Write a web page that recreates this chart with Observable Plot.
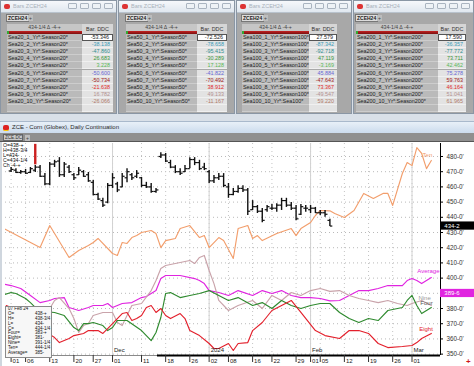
<!DOCTYPE html>
<html><head><meta charset="utf-8">
<script src="https://cdn.jsdelivr.net/npm/d3@7"></script>
<script src="https://cdn.jsdelivr.net/npm/@observablehq/plot@0.6"></script>
<style>
body{margin:0;width:474px;height:366px;overflow:hidden;background:#d9e0e8;position:relative;font-family:"Liberation Sans",Arial,sans-serif;}
.panel{position:absolute;top:0;height:114px;background:#a8a8a8;border:1px solid #8a96a4;box-sizing:border-box;overflow:hidden}
.tb{position:absolute;left:0;top:0;right:0;height:11px;background:linear-gradient(#f6f8fb,#e0e7ef);border-bottom:1px solid #b8c2cc}
.tb .ico{position:absolute;left:3px;top:3px;width:6px;height:5px;background:#d33;border-radius:2px}
.tb .t{position:absolute;left:12px;top:2px;font-size:5.5px;color:#a9b1bb}
.tb .b{position:absolute;top:2px;width:9px;height:6px;border:1px solid #aab4c0;border-radius:1px;background:#eef2f6;box-sizing:border-box}
.tab{position:absolute;top:13px;height:8px;background:#dcdcdc;border:1px solid #777;box-sizing:border-box;font-size:5px;font-weight:bold;color:#222;line-height:6px;padding:0 1px}
.plus{position:absolute;top:14px;width:5px;height:6px;background:#bdbdbd;font-size:5px;line-height:6px;text-align:center;color:#444}
.cell{position:absolute;box-sizing:border-box;font-size:5.4px;white-space:nowrap;overflow:hidden;line-height:7px}
.nm{background:#bababa;border-bottom:1px solid #cdcdcd;color:#1c1c1c;padding-left:1px}
.vl{background:#e3e3e3;border-bottom:1px solid #f0f0f0;text-align:right;padding-right:3px}
.hdr{background:#c6c6c6;color:#444;text-align:center;font-size:5.2px;line-height:6px}
.vh{background:#d6d6d6;color:#333;text-align:center;font-size:5.4px;line-height:10px}
.red{background:linear-gradient(#c42222,#7a1010);border-left:2px solid #3a3}
#wt{position:absolute;left:0;top:121px;width:474px;height:12px;background:linear-gradient(#e8f0f8,#cbdbed);border-top:1px solid #a9b9cc;box-sizing:border-box}
#wt .ico{position:absolute;left:3px;top:3px;width:6px;height:5px;background:#d22;border-radius:2px;border-bottom:1px solid #fc0}
#wt .t{position:absolute;left:12px;top:2px;font-size:6px;color:#2a2a2a}
#tool{position:absolute;left:0;top:133px;width:474px;height:9px;background:#8f8f8f;border-bottom:1px solid #555;box-sizing:border-box}
#tool .tab{top:1px;left:3px;width:20px;height:7px;background:#c9c9c9;border:1px solid #666;font-weight:normal;font-size:4.6px;color:#333}
#tool .plus{top:2px;left:25px}
#chart{position:absolute;left:0;top:142px}
#edge{position:absolute;left:0;top:142px;width:2px;height:224px;background:#cfd6de}
#dtop{position:absolute;left:3px;top:143px;font-size:5.2px;line-height:5px;color:#111;white-space:pre}
#dbox{position:absolute;left:5px;top:306px;width:47px;height:52px;background:#f7f7f7;border:1px solid #8a8a8a;box-sizing:border-box;font-size:4.5px;line-height:4.9px;color:#111;overflow:hidden}
#dbox div{position:relative;height:4.9px}
#dbox span.v{position:absolute;left:29px}
#dbox span.k{position:absolute;left:2px}
#corner{position:absolute;left:466px;top:357px;color:#d01818;font-size:8px;font-weight:bold}
</style></head>
<body>
<div id="panels"></div>
<div id="wt"><span class="ico"></span><span class="t">ZCE - Corn (Globex), Daily Continuation</span></div>
<div id="tool"><span class="tab">ZCE.DC</span><span class="plus">+</span></div>
<div id="chart"></div>
<div id="edge"></div>
<div id="dtop"></div>
<div id="dbox"></div>
<div id="corner">+</div>
<script>
// ---------- table data ----------
const panelPrefixes = ["Sea20","Sea50","Sea100","Sea200"];
const sea20Vals  = ["-53.346","-38.138","-47.860","26.683","3.228","-50.600","-50.734","-21.638","16.782","-26.066"];
const sea50Vals  = ["-72.526","-78.658","-95.415","-30.289","17.128","-41.822","-70.492","38.912","49.133","-11.167"];
const sea100Vals = ["27.579","-87.342","-92.718","47.119","-3.169","45.884","-47.643","73.367","-49.547","59.220"];
const sea200Vals = ["17.590","-36.357","-77.772","73.711","42.462","75.278","59.763","46.164","51.041","61.965"];
const sea20Labels  = ["Sea20_1_Yr*:Season20*","Sea20_2_Yr*:Season20*","Sea20_3_Yr*:Season20*","Sea20_4_Yr*:Season20*","Sea20_5_Yr*:Season20*","Sea20_6_Yr*:Season20*","Sea20_7_Yr*:Season20*","Sea20_8_Yr*:Season20*","Sea20_9_Yr*:Season20*","Sea20_10_Yr*:Season20*"];
const sea50Labels  = ["Sea50_1_Yr*:Season50*","Sea50_2_Yr*:Season50*","Sea50_3_Yr*:Season50*","Sea50_4_Yr*:Season50*","Sea50_5_Yr*:Season50*","Sea50_6_Yr*:Season50*","Sea50_7_Yr*:Season50*","Sea50_8_Yr*:Season50*","Sea50_9_Yr*:Season50*","Sea50_10_Yr*:Season50*"];
const sea100Labels = ["Sea100_1_Yr*:Season100*","Sea100_2_Yr*:Season100*","Sea100_3_Yr*:Season100*","Sea100_4_Yr*:Season100*","Sea100_5_Yr*:Season100*","Sea100_6_Yr*:Season100*","Sea100_7_Yr*:Season100*","Sea100_8_Yr*:Season100*","Sea100_9_Yr*:Season100*","Sea100_10_Yr*:Sea100*"];
const sea200Labels = ["Sea200_1_Yr*:Season200*","Sea200_2_Yr*:Season200*","Sea200_3_Yr*:Season200*","Sea200_4_Yr*:Season200*","Sea200_5_Yr*:Season200*","Sea200_6_Yr*:Season200*","Sea200_7_Yr*:Season200*","Sea200_8_Yr*:Season200*","Sea200_9_Yr*:Season200*","Sea200_10_Yr*:Season200*"];
const headerText = "434-1/4 \u0394 -4-+";
const valueHeader = "Bar. DDC";

// ---------- chart data (trading-day index: 0 = 01 Nov 2023) ----------
const highs = [472.75,472,470.75,471.5,472.75,474,474,468.75,476,477.5, 479.25,476,474,468.75,472.75,470.75,469.5,464.25,455.75,452.5, 462.25,468.75,463,468.75,472,468.75,470.75,466.25,463,462.25, 459,482.5,482,477.5,474,472,474,479.25,479.25,477.5, 475.5,470.75,467.5,468.75,468.75,462.25,459,460.75,460.75,459, 451,447.75,445.75,447.75,448.5,449,452.5,452.5,449.75,447.75, 448.5,447.75,447.75,446.5,444.5,444.5,438.75];
const lows = [469.5,468.75,468.25,468.25,468.75,469.5,466.25,460.75,460.75,472.75, 466.25,466.25,468.75,464.25,467.5,466.25,463,454.25,451,446.5, 449,459,456.25,459.5,462.75,464.25,465.5,459.5,459,455.75, 455.75,478.75,476,472,468.75,467.5,469.5,472,474,470.75, 470.75,462.25,462.25,464.25,459.5,452.5,454.25,455.75,456.25,441.25, 444.5,442.5,436.5,443.25,444.5,443.25,444.5,446.5,444.5,437.75, 441.25,443.25,442.5,442.5,441.25,440,434];
const opens = [470.5,471,469.5,470,469.5,471,473,467,462,475, 477,468,473,468,468,470,468,463,455,451, 450,461,462,460,466,468,467,466,461,460, 457,480,481,476,473,470,470,472,478,476, 473,470,464,466,467,460,455,457,459,458, 445,447,444,445,446,446,448,451,448,446, 442,446,445,446,443,443,438];
const closes = [471.5,469.5,470,469,472,473,467,462,475,476.5, 468,475,470,466,471,467,464,455,452,448, 461,466,458,467,470,466,469,461,460,457, 458,481,477,473,470,469,472,478,476,472, 472,464,466,467,461,455,457,459,458,444, 447,444,438,447,446,448,451,448,446,439, 447,446,446,443,443,442,434.25];

const tenIdx = [-2,6,8,12,14,16,17,18,21,22,23,24,25,26,27,29,30,31,32,34,35,37,39,40,41,43,44,46,47,49,50,51,52,55,58,59,60,62,63,64,66,67,69,71,73,75,77,78,79,81,82,83,84,85,86,87];
const tenVal = [433.5,420.1,434.6,413.6,418.2,421.4,423.4,426.1,416.2,414.9,423.4,422.8,426.7,428,430,431.3,429.3,420.1,424.7,426.1,432.6,434.6,426.7,428,420.1,426.7,424.7,412.9,432.6,434.6,426.1,428,424.7,429.3,432.6,428,432.6,436.6,441.2,444.5,444.25,442.5,439.9,444.5,455.7,452.4,455.7,455.7,447.8,468.8,476,474,485.9,482,472,477.4];
const avgIdx = [-2,0,2,4,6,8,9,11,12,14,16,17,19,20,21,23,25,27,28,30,31,32,35,38,39,40,41,43,45,47,50,52,54,56,58,60,62,64,66,68,70,72,74,76,78,81,82,83,84,85,87];
const avgVal = [396.4,395.1,393.2,388.6,383.9,385.3,386.6,387.2,380.7,378.7,380.7,382,382,383.3,380.7,383.3,383.9,387.2,387.9,391.8,399.7,401.7,401.7,399.7,398.4,396.4,391.8,390.5,388.6,391.8,388.6,391.8,389.9,391.8,388.6,387.2,387.2,386.6,385,385.3,388.6,391.8,391.8,393.2,395.1,395.1,398.4,399.7,398.4,396.4,400.4];
const fourIdx = [-2,0,1,3,4,5,7,9,11,13,14,15,16,17,19,20,21,22,24,27,29,30,31,32,33,35,37,39,41,43,45,47,50,52,54,56,58,60,62,64,66,68,70,72,74,76,78,81,82,83,84,85,87];
const fourVal = [388.6,390.5,389.9,386.6,383.9,380.7,378,377.4,375.4,367.5,365.5,370.1,370.1,370.8,368.8,365.5,367.5,372.1,372.1,365.5,358.9,364.2,374.1,389.9,390.5,387.2,388.6,389.9,391.8,388.6,385.3,387.2,382,383.9,380,385.3,382,380,382,383.3,383.3,377.4,373.4,370.8,373.4,372.1,378.7,380.7,385.3,388.6,382,376.7,380.7];
const nineIdx = [-2,4,8,9,10,12,13,14,15,16,17,19,21,22,23,24,25,27,29,30,31,32,35,37,38,39,40,41,42,43,45,47,50,52,54,56,58,60,62,64,66,68,70,72,74,76,78,80,82,83,85,87];
const nineVal = [372.1,374,380,385.3,387.2,380,373.4,364.2,368.8,370.1,375.4,377.4,377.4,370.8,368.8,375.4,382,383.3,391.8,398.4,406.3,408.3,410.3,411.6,409.6,413.6,414.9,405,396.4,385.3,378.7,382,385.3,380,388.6,385.3,390.5,388.6,391.8,393.2,391.25,391.8,388.6,386.6,385.3,383.9,385.3,383.3,382,383.3,385.3,382];
const eightIdx = [-1,0,4,8,9,10,12,13,15,16,18,19,20,21,22,23,24,25,26,27,28,29,30,31,32,33,35,36,37,39,41,42,43,45,46,47,49,50,52,54,56,58,60,63,65,68,70,72,74,76,78,81,83,84,85,87];
const eightVal = [382,380.7,375,363,360.9,357.6,360.3,362.2,363.6,365.5,365.5,363.6,366.8,370.1,373.4,376.7,377.4,372.1,373.4,375.4,380.7,382,377.4,380,375.4,373.4,376.7,373.4,365.5,362.2,357,353.7,353.7,357,352.4,357,357.6,365.5,370.8,378.7,382,385.3,377.4,365.5,362.2,360.3,365.5,365.5,363.6,357,354.3,355,355.7,357.6,360.3,363.6];

const yTicks = [350,360,370,380,390,400,410,420,430,440,450,460,470,480];
const yTickLabels = [350,360,370,380,400,410,420,430,440,450,460,470,480]; // 390 is hidden under the magenta value box
const xTickIdx = [0,3,8,13,17,21,27,32,37,41,45,50,54,59,62,64,69,74,79,83];
const xTickLab = ["01","06","13","20","27","01","11","18","26","02","08","16","22","29","01","05","12","19","26","01"];
const monthIdx = [21,41,62,83];
const monthLab = ["Dec","2024","Feb","Mar"];
const lineNames = ["Ten","Average","Nine","Four","Eight"];
const lineLabelIdx = [86.2,86.4,85.6,86,85.9];
const lineLabelVal = [480.7,404.4,387.2,383.9,366.2];
const lastCloseLabel = "434-2";
const avgAxisValue = 389.9;
const avgAxisLabel = "389-6";
const boxTopLines = ["O=438-+","H=438-3/4","L=434-","C=434-1/4","Ch -4-+"];
const boxKeys = ["O=","H=","L=","C=","Four=","Eight=","Nine=","Ten=","Average="];
const boxVals = ["438-+","438-3/4","434-","434-1/4","383-+","381-","391-1/4","444-1/4","385-"];
const boxDate = "07 Feb 24";

// ---------- styles / layout ----------
const valColors = ["#222","#3a9cb8","#2e8f90","#3b963b","#57b857","#6868d6","#a01818","#e02a2a","#b39090","#b07a68"];
const panelLayout = [
  {left:0,width:117,tx:6,nameW:75,valW:31},
  {left:118,width:117,tx:7,nameW:71,valW:30},
  {left:236,width:116,tx:5,nameW:67,valW:28},
  {left:353,width:121,tx:2,nameW:82,valW:28}
];
const seriesColor = {Ten:"#f29e6c",Average:"#e024e0",Nine:"#c9a3aa",Four:"#2f8a2f",Eight:"#e3202c"};
const labelColor = {Ten:"#f29e6c",Average:"#e024e0",Nine:"#9a9a9a",Four:"#555",Eight:"#e3202c"};

// ---------- panels ----------
const allVals = [sea20Vals,sea50Vals,sea100Vals,sea200Vals];
const allLabels = [sea20Labels,sea50Labels,sea100Labels,sea200Labels];
const host = document.getElementById("panels");
panelPrefixes.forEach((p,pi)=>{
  const L = panelLayout[pi];
  const el = document.createElement("div");
  el.className="panel"; el.style.left=L.left+"px"; el.style.width=L.width+"px";
  let h = `<div class="tb"><span class="ico"></span><span class="t">Bars ZCEH24</span>`;
  [L.width-50,L.width-38,L.width-26,L.width-14].forEach(bx=>{h+=`<span class="b" style="left:${bx}px"></span>`});
  h += `</div><span class="tab" style="left:${L.tx-1}px">ZCEH24</span><span class="plus" style="left:${L.tx+21}px">+</span>`;
  const tx=L.tx, vx=L.tx+L.nameW;
  h += `<div class="cell hdr" style="left:${tx}px;top:23px;width:${L.nameW}px;height:7px">${headerText}</div>`;
  h += `<div class="cell red" style="left:${tx}px;top:30px;width:${L.nameW}px;height:3px"></div>`;
  h += `<div class="cell vh" style="left:${vx}px;top:23px;width:${L.valW}px;height:10px">${valueHeader}</div>`;
  for(let r=0;r<11;r++){
    const top = 33 + r*7.1;
    const lab = r<10 ? allLabels[pi][r] : "";
    const v = r<10 ? allVals[pi][r] : "";
    h += `<div class="cell nm" style="left:${tx}px;top:${top}px;width:${L.nameW}px;height:7.1px">${lab}</div>`;
    const sel = r===0 ? "background:#fff;border:1px solid #555;line-height:5px;" : "";
    h += `<div class="cell vl" style="left:${vx}px;top:${top}px;width:${L.valW}px;height:7.1px;color:${valColors[r]||'#222'};${sel}">${v}</div>`;
  }
  el.innerHTML = h;
  host.appendChild(el);
});

// ---------- data boxes ----------
document.getElementById("dtop").textContent = boxTopLines.join("\n");
const db = document.getElementById("dbox");
let dh = `<div><span class="k">${boxDate}</span></div>`;
boxKeys.forEach((k,i)=>{dh += `<div><span class="k">${k}</span><span class="v">${boxVals[i]}</span></div>`});
db.innerHTML = dh;

// ---------- chart ----------
const bars = highs.map((h,k)=>({i:k,o:opens[k],h,l:lows[k],c:closes[k]}));
const rows = (idx,val)=>idx.map((x,k)=>({x,y:val[k]}));
const series = {Ten:rows(tenIdx,tenVal),Average:rows(avgIdx,avgVal),Nine:rows(nineIdx,nineVal),Four:rows(fourIdx,fourVal),Eight:rows(eightIdx,eightVal)};
const xDomain = [-1.16,88.9];
const yDomain = [349.1,488.55];
const xLab = new Map(xTickIdx.map((d,i)=>[d,xTickLab[i]]));
const labels = lineNames.map((n,i)=>({n,x:lineLabelIdx[i],y:lineLabelVal[i]}));
const last = bars[bars.length-1];

const chart = Plot.plot({
  width:474,height:224,marginLeft:5,marginRight:34,marginTop:1,marginBottom:11,
  x:{domain:xDomain},
  y:{domain:yDomain},
  style:{background:"#fff",fontFamily:"Liberation Sans, Arial, sans-serif",fontSize:"6px",overflow:"visible"},
  marks:[
    Plot.ruleY(yTicks,{stroke:"#b9b9b9",strokeDasharray:"1 3"}),
    Plot.ruleX(xTickIdx,{stroke:"#c4c4c4",strokeDasharray:"1 3"}),
    Plot.ruleX(monthIdx,{stroke:"#d2d2d2"}),
    Plot.ruleX([5],{y1:474.5,y2:488,stroke:"#cc2020",strokeWidth:2.4}),
    ...["Ten","Average","Nine","Four","Eight"].map(n=>Plot.line(series[n],{x:"x",y:"y",stroke:seriesColor[n],strokeWidth:1.15,clip:true})),
    Plot.ruleX(bars,{x:"i",y1:"l",y2:"h",stroke:"#111",strokeWidth:1.4}),
    Plot.link(bars,{x1:d=>d.i-0.5,x2:"i",y1:"o",y2:"o",stroke:"#111",strokeWidth:1.2}),
    Plot.link(bars,{x1:"i",x2:d=>d.i+0.5,y1:"c",y2:"c",stroke:"#111",strokeWidth:1.2}),
    Plot.text(labels,{x:"x",y:"y",text:"n",fill:d=>labelColor[d.n],fontSize:6,textAnchor:"middle"}),
    Plot.ruleY([yDomain[0]],{stroke:"#8a8a8a"}),
    Plot.ruleY([yDomain[0]],{x1:30.3,x2:xDomain[1],stroke:"#000",strokeWidth:2}),
    Plot.ruleX([xDomain[1]],{stroke:"#000"}),
    Plot.axisY(yTickLabels,{anchor:"right",tickSize:2,tickPadding:4,tickFormat:d=>`${d}-0'`,fontSize:6.3,fill:"#333",label:null}),
    Plot.axisX(xTickIdx,{anchor:"bottom",tickSize:7,tickFormat:()=>"",label:null,stroke:"#333"}),
    Plot.text(xTickIdx,{x:d=>d,text:d=>xLab.get(d),frameAnchor:"bottom",dy:7,dx:1.5,textAnchor:"start",fontSize:6,fill:"#222"}),
    Plot.text(monthIdx,{x:d=>d,text:(d,i)=>monthLab[i],frameAnchor:"bottom",dy:-3.5,dx:1.5,textAnchor:"start",fontSize:6,fill:"#222"}),
    Plot.rect([last],{x1:xDomain[1],x2:xDomain[1]+7.1,y1:d=>d.c-2.7,y2:d=>d.c+2.7,fill:"#000",clip:false}),
    Plot.text([last],{x:xDomain[1]+0.8,y:"c",text:()=>lastCloseLabel,fill:"#fff",fontSize:6,textAnchor:"start"}),
    Plot.rect([avgAxisValue],{x1:xDomain[1],x2:xDomain[1]+7.1,y1:d=>d-2.7,y2:d=>d+2.7,fill:"#e024e0",clip:false}),
    Plot.text([avgAxisValue],{x:xDomain[1]+0.8,y:d=>d,text:()=>avgAxisLabel,fill:"#fff",fontSize:6,textAnchor:"start"})
  ]
});
document.getElementById("chart").appendChild(chart);
</script>
</body></html>
